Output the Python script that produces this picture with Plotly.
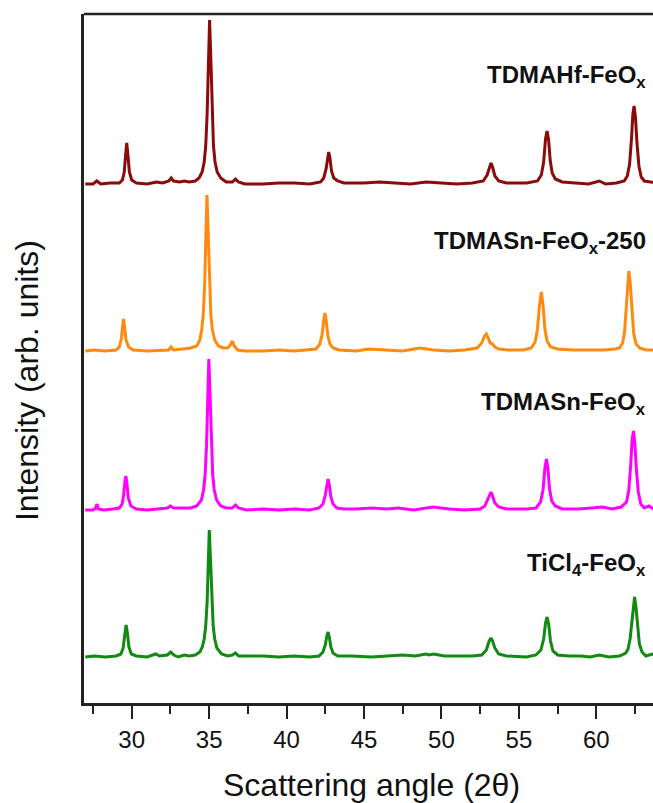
import plotly.graph_objects as go

# Powder XRD patterns (2-theta in degrees, intensity in arbitrary units above each baseline)
tdmahf_feox = [
    (27.0, 0), (27.5, 0), (27.75, 3), (28.0, 0), (28.6, 1), (29.2, 1), (29.4, 4), (29.52, 12),
    (29.6, 28), (29.68, 41), (29.76, 28), (29.85, 12), (30.0, 4), (30.3, 1), (31.0, 0), (31.6, 2),
    (32.0, 1), (32.4, 3), (32.55, 6), (32.7, 3), (33.1, 2), (33.4, 3), (33.7, 2), (34.1, 3),
    (34.35, 6), (34.55, 12), (34.68, 22), (34.78, 38), (34.87, 70), (34.95, 125), (35.03, 164),
    (35.11, 125), (35.19, 70), (35.28, 38), (35.38, 22), (35.52, 12), (35.75, 6), (36.1, 2),
    (36.5, 2), (36.7, 5), (36.9, 2), (37.3, 0), (38.5, 0), (39.5, 1), (40.5, 1), (41.5, 0),
    (42.2, 2), (42.4, 6), (42.55, 15), (42.65, 28), (42.72, 32), (42.8, 26), (42.9, 13),
    (43.05, 6), (43.3, 3), (43.7, 1), (45.0, 1), (46.0, 2), (47.0, 1), (48.0, 0), (49.0, 2),
    (50.0, 1), (51.0, 0), (52.0, 1), (52.7, 3), (52.95, 9), (53.1, 18), (53.2, 21), (53.3, 17),
    (53.45, 8), (53.7, 3), (54.2, 1), (55.5, 1), (56.2, 3), (56.45, 9), (56.6, 22), (56.72, 45),
    (56.82, 53), (56.92, 44), (57.02, 24), (57.15, 11), (57.35, 5), (57.8, 2), (58.5, 1),
    (59.5, 0), (60.2, 3), (60.6, 0), (61.3, 1), (61.8, 3), (62.0, 8), (62.15, 20), (62.27, 45),
    (62.36, 70), (62.44, 78), (62.53, 66), (62.63, 40), (62.75, 18), (62.9, 7), (63.1, 3),
    (63.5, 2), (64.0, 1),
]

tdmasn_feox_250 = [
    (27.0, 0), (27.6, 1), (28.3, 0), (29.0, 1), (29.2, 4), (29.33, 12), (29.41, 24), (29.47, 32),
    (29.54, 24), (29.63, 11), (29.8, 4), (30.1, 1), (31.0, 0), (31.8, 1), (32.4, 1), (32.54, 4),
    (32.7, 1), (33.3, 2), (33.8, 3), (34.2, 5), (34.4, 11), (34.52, 21), (34.62, 36), (34.71, 67),
    (34.79, 118), (34.86, 156), (34.94, 118), (35.02, 67), (35.11, 36), (35.21, 21), (35.36, 11),
    (35.6, 5), (35.9, 3), (36.2, 3), (36.38, 6), (36.5, 10), (36.62, 5), (36.85, 1), (37.3, 0),
    (38.5, 0), (39.5, 1), (40.5, 0), (41.5, 1), (41.9, 2), (42.15, 7), (42.3, 17), (42.4, 31),
    (42.48, 38), (42.56, 30), (42.66, 16), (42.8, 7), (43.0, 3), (43.4, 1), (44.5, 0), (45.3, 2),
    (46.3, 1), (47.5, 0), (48.6, 3), (49.5, 1), (50.5, 0), (51.5, 1), (52.3, 3), (52.6, 8),
    (52.78, 15), (52.9, 17), (53.02, 13), (53.15, 8), (53.3, 7), (53.45, 4), (53.7, 2), (54.3, 1),
    (55.3, 1), (55.8, 3), (56.05, 9), (56.2, 22), (56.34, 47), (56.45, 59), (56.56, 46),
    (56.68, 22), (56.82, 10), (57.05, 4), (57.5, 2), (58.5, 1), (59.5, 1), (60.5, 1), (61.2, 2),
    (61.5, 3), (61.7, 8), (61.83, 20), (61.94, 45), (62.02, 70), (62.1, 80), (62.19, 68),
    (62.29, 40), (62.41, 18), (62.57, 7), (62.8, 3), (63.2, 1), (64.0, 1),
]

tdmasn_feox = [
    (27.0, 0), (27.5, 0), (27.68, 2), (27.76, 6), (27.84, 1), (28.2, 0), (28.8, 1), (29.2, 2),
    (29.38, 6), (29.48, 15), (29.56, 28), (29.62, 34), (29.69, 27), (29.78, 12), (29.95, 4),
    (30.3, 1), (31.0, 0), (31.7, 1), (32.3, 2), (32.5, 4), (32.7, 2), (33.3, 2), (33.8, 2),
    (34.2, 4), (34.5, 10), (34.64, 20), (34.74, 35), (34.83, 64), (34.91, 115), (34.98, 151),
    (35.06, 115), (35.14, 64), (35.23, 35), (35.33, 20), (35.48, 10), (35.75, 4), (36.1, 2),
    (36.5, 2), (36.7, 5), (36.9, 2), (37.4, 0), (38.5, 1), (39.5, 0), (40.5, 1), (41.5, 0),
    (42.1, 2), (42.35, 6), (42.5, 15), (42.6, 26), (42.68, 31), (42.76, 25), (42.86, 13),
    (43.0, 6), (43.25, 2), (43.7, 1), (44.5, 1), (45.5, 2), (46.5, 1), (47.2, 2), (48.2, 0),
    (49.45, 3), (50.5, 1), (51.5, 0), (52.5, 1), (52.8, 4), (53.0, 11), (53.12, 17), (53.2, 18),
    (53.3, 14), (53.45, 7), (53.7, 3), (54.2, 1), (55.5, 1), (56.1, 2), (56.4, 8), (56.56, 20),
    (56.68, 42), (56.78, 51), (56.88, 41), (56.98, 21), (57.12, 9), (57.35, 4), (57.8, 1),
    (58.8, 1), (59.7, 2), (60.4, 3), (61.0, 1), (61.6, 3), (61.95, 8), (62.1, 20), (62.22, 45),
    (62.31, 70), (62.4, 79), (62.49, 66), (62.59, 40), (62.71, 18), (62.87, 6), (63.1, 2),
    (63.4, 4), (63.7, 1), (64.0, 1),
]

ticl4_feox = [
    (27.0, 0), (27.6, 1), (28.3, 0), (29.0, 1), (29.3, 3), (29.45, 9), (29.55, 22), (29.64, 32),
    (29.72, 24), (29.82, 10), (29.98, 3), (30.3, 1), (31.0, 0), (31.55, 3), (31.8, 1), (32.3, 2),
    (32.52, 5), (32.72, 2), (33.0, 0), (33.4, 2), (33.7, 1), (34.1, 2), (34.4, 5), (34.56, 10),
    (34.68, 18), (34.78, 31), (34.87, 55), (34.94, 97), (35.01, 127), (35.09, 97), (35.17, 55),
    (35.26, 31), (35.36, 18), (35.5, 9), (35.8, 3), (36.2, 1), (36.5, 2), (36.7, 4), (36.9, 1),
    (37.5, 1), (38.5, 1), (39.5, 0), (40.5, 1), (41.5, 0), (42.1, 1), (42.35, 5), (42.5, 12),
    (42.6, 21), (42.68, 25), (42.76, 20), (42.86, 10), (43.0, 4), (43.3, 1), (44.2, 1),
    (45.5, 0), (46.5, 1), (47.5, 2), (48.3, 1), (49.0, 3), (49.2, 2), (49.5, 3), (50.2, 1),
    (51.0, 1), (52.0, 1), (52.6, 2), (52.9, 7), (53.08, 16), (53.2, 19), (53.3, 16), (53.45, 9),
    (53.7, 3), (54.2, 1), (55.5, 0), (56.1, 2), (56.42, 7), (56.6, 18), (56.72, 34), (56.82, 40),
    (56.92, 33), (57.04, 16), (57.2, 6), (57.5, 2), (58.2, 1), (59.0, 1), (59.6, 0), (60.2, 2),
    (60.8, 0), (61.5, 1), (61.9, 4), (62.05, 8), (62.18, 18), (62.3, 38), (62.39, 54),
    (62.47, 60), (62.56, 50), (62.66, 30), (62.78, 13), (62.95, 5), (63.2, 1), (63.6, 3),
    (64.0, 1),
]

sample_labels = [
    "TDMAHf-FeO<sub>x</sub>",
    "TDMASn-FeO<sub>x</sub>-250",
    "TDMASn-FeO<sub>x</sub>",
    "TiCl<sub>4</sub>-FeO<sub>x</sub>",
]
patterns = [tdmahf_feox, tdmasn_feox_250, tdmasn_feox, ticl4_feox]
stack_offsets = [519, 352, 193, 46]
line_colors = ["#8b0a0a", "#ff8a0f", "#ff00ff", "#108a10"]
label_heights = [627, 461, 300, 139]  # vertical position of each sample name (data units)

x_range = [26.92, 63.66]
y_range = [0, 689]

fig = go.Figure()

for name, pattern, offset, color in zip(sample_labels, patterns, stack_offsets, line_colors):
    two_theta = [p[0] for p in pattern]
    counts = [p[1] + offset for p in pattern]
    fig.add_trace(go.Scatter(
        x=two_theta, y=counts, mode="lines", name=name,
        line=dict(color=color, width=3), showlegend=False,
    ))

for name, ypos in zip(sample_labels, label_heights):
    fig.add_annotation(
        x=0.991, xref="paper", y=ypos, yref="y",
        text=f"<b>{name}</b>", showarrow=False,
        xanchor="right", yanchor="middle",
        font=dict(family="Liberation Sans, Arial", size=24, color="#111"),
    )

fig.add_annotation(
    x=0.505, xref="paper", y=-0.1195, yref="paper",
    text="Scattering angle (2θ)", showarrow=False,
    xanchor="center", yanchor="middle",
    font=dict(family="Liberation Sans, Arial", size=32, color="#111"),
)
fig.add_annotation(
    x=-0.1002, xref="paper", y=0.4686, yref="paper",
    text="Intensity (arb. units)", showarrow=False, textangle=-90,
    xanchor="center", yanchor="middle",
    font=dict(family="Liberation Sans, Arial", size=32, color="#111"),
)

# top frame edge
fig.add_shape(type="line", xref="paper", yref="paper", x0=0, x1=1, y0=1, y1=1,
              line=dict(color="#222", width=2.5))

fig.update_xaxes(
    range=x_range, showgrid=False, zeroline=False,
    showline=True, linecolor="#222", linewidth=2.5,
    ticks="outside", ticklen=13, tickwidth=2, tickcolor="#222",
    tick0=0, dtick=5,
    minor=dict(ticks="outside", ticklen=8, tickwidth=2, tickcolor="#222", tick0=0, dtick=2.5),
    tickfont=dict(family="Liberation Sans, Arial", size=24, color="#111"),
)
fig.update_yaxes(
    range=y_range, showgrid=False, zeroline=False,
    showline=True, linecolor="#222", linewidth=2.5,
    showticklabels=False, ticks="",
)

fig.update_layout(
    width=653, height=803,
    margin=dict(l=84, r=0, t=14, b=100),
    paper_bgcolor="white", plot_bgcolor="white",
)

fig.write_html("out.html")
